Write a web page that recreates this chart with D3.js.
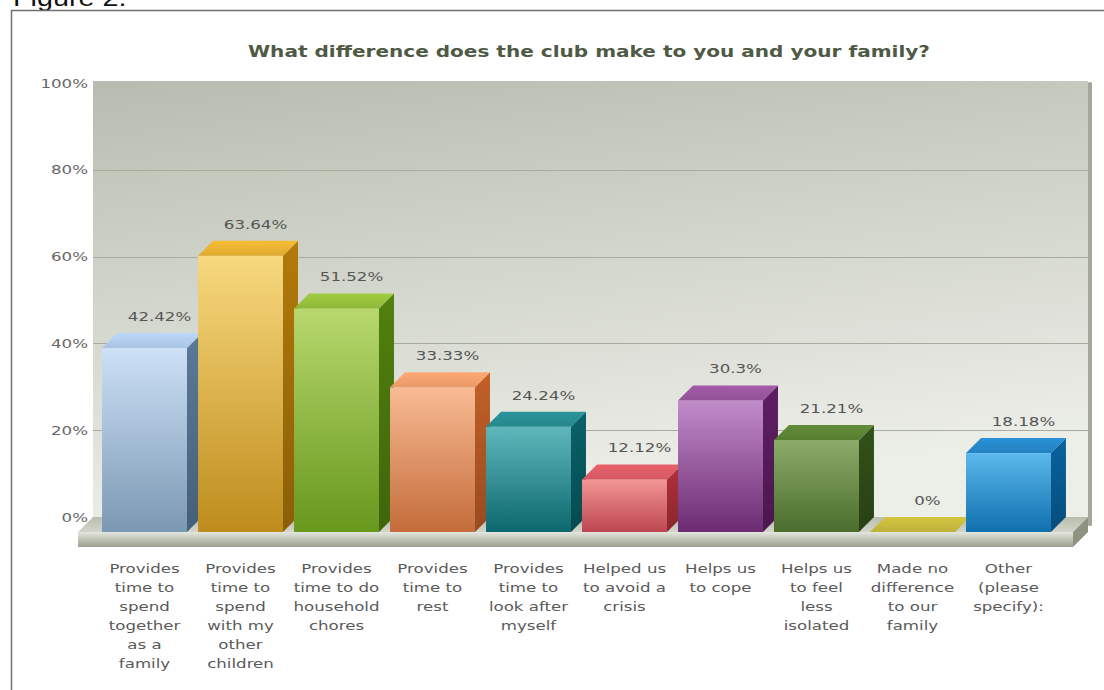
<!DOCTYPE html>
<html>
<head>
<meta charset="utf-8">
<script src="https://cdn.jsdelivr.net/npm/d3@7"></script>
<style>
  html, body { margin: 0; padding: 0; background: #ffffff; }
  svg { display: block; }
  text { font-family: "DejaVu Sans", Verdana, sans-serif; }
</style>
</head>
<body>
<svg id="chart" width="1104" height="690"></svg>
<script>
// ---- data ----
const categories = [
  "Provides\ntime to\nspend\ntogether\nas a\nfamily",
  "Provides\ntime to\nspend\nwith my\nother\nchildren",
  "Provides\ntime to do\nhousehold\nchores",
  "Provides\ntime to\nrest",
  "Provides\ntime to\nlook after\nmyself",
  "Helped us\nto avoid a\ncrisis",
  "Helps us\nto cope",
  "Helps us\nto feel\nless\nisolated",
  "Made no\ndifference\nto our\nfamily",
  "Other\n(please\nspecify):"
];
const values = [42.42, 63.64, 51.52, 33.33, 24.24, 12.12, 30.3, 21.21, 0, 18.18];
const valueLabels = ["42.42%", "63.64%", "51.52%", "33.33%", "24.24%", "12.12%", "30.3%", "21.21%", "0%", "18.18%"];
const yTicks = [0, 20, 40, 60, 80, 100];
const yTickLabels = ["0%", "20%", "40%", "60%", "80%", "100%"];
const title = "What difference does the club make to you and your family?";
const figureLabel = "Figure 2:";

// face colours per bar: [front top, front bottom, side, top-face]
const palette = [
  ["#cde1f7", "#7b98b3", "#4e6a85", "#a9c3e2"],
  ["#f8d97e", "#be8c1c", "#9a6a08", "#deaa30"],
  ["#b8d86e", "#67981c", "#46700c", "#8fb83a"],
  ["#f9bb94", "#c46c3a", "#a85322", "#e89868"],
  ["#5fb7bb", "#0c686e", "#07545a", "#26878c"],
  ["#f29595", "#bd4650", "#9a2a34", "#d25860"],
  ["#c28ccb", "#6c2b71", "#521a57", "#935298"],
  ["#8cac6a", "#4a6c2c", "#2c4716", "#577e31"],
  ["#d4ca4c", "#aea42c", "#8e8620", "#bdb23a"],
  ["#5cb8ec", "#0f70ae", "#07568a", "#2482c0"]
];

// ---- layout ----
const svg = d3.select("#chart");
const DX = 15, DY = 15;          // 3D depth offset (back plane is up-right)
const SX = 1.28;                 // horizontal text stretch

const y = d3.scaleLinear().domain([0, 100]).range([517, 83]);      // back plane
const x = d3.scaleBand().domain(d3.range(categories.length))
  .range([91, 1062]).padding(0.115);                                // front plane

const defs = svg.append("defs");

// wall gradient
const wg = defs.append("linearGradient").attr("id", "wall")
  .attr("x1", 0).attr("y1", 0).attr("x2", 0.25).attr("y2", 1);
wg.append("stop").attr("offset", 0).attr("stop-color", "#b8bcb0");
wg.append("stop").attr("offset", 0.5).attr("stop-color", "#d3d6cc");
wg.append("stop").attr("offset", 1).attr("stop-color", "#eceee8");

const fg = defs.append("linearGradient").attr("id", "floorFront")
  .attr("x1", 0).attr("y1", 0).attr("x2", 0).attr("y2", 1);
fg.append("stop").attr("offset", 0).attr("stop-color", "#e4e7de");
fg.append("stop").attr("offset", 1).attr("stop-color", "#9a9f8d");

const ftg = defs.append("linearGradient").attr("id", "floorTop")
  .attr("x1", 0).attr("y1", 0).attr("x2", 0).attr("y2", 1);
ftg.append("stop").attr("offset", 0).attr("stop-color", "#b9bdae");
ftg.append("stop").attr("offset", 1).attr("stop-color", "#d2d5c8");

palette.forEach((c, i) => {
  const g1 = defs.append("linearGradient").attr("id", "front" + i)
    .attr("x1", 0).attr("y1", 0).attr("x2", 0).attr("y2", 1);
  g1.append("stop").attr("offset", 0).attr("stop-color", c[0]);
  g1.append("stop").attr("offset", 1).attr("stop-color", c[1]);
  const g2 = defs.append("linearGradient").attr("id", "side" + i)
    .attr("x1", 0).attr("y1", 0).attr("x2", 0).attr("y2", 1);
  g2.append("stop").attr("offset", 0).attr("stop-color", d3.color(c[2]).brighter(0.4));
  g2.append("stop").attr("offset", 1).attr("stop-color", d3.color(c[2]).darker(0.3));
  const g3 = defs.append("linearGradient").attr("id", "top" + i)
    .attr("x1", 0).attr("y1", 1).attr("x2", 0).attr("y2", 0);
  g3.append("stop").attr("offset", 0).attr("stop-color", c[3]);
  g3.append("stop").attr("offset", 1).attr("stop-color", d3.color(c[3]).brighter(0.3));
});

// figure caption, partly clipped by the top of the page
svg.append("text").attr("transform", "translate(13,6) scale(1.25,1)")
  .style("font-family", "'Liberation Sans', Arial, sans-serif")
  .attr("font-size", 23).attr("fill", "#111").text(figureLabel);

// frame
svg.append("path").attr("d", "M11.5,690 L11.5,10.5 L1104,10.5")
  .attr("fill", "none").attr("stroke", "#6f6f6f").attr("stroke-width", 1.5);

// back wall
const wallR = 1088;
svg.append("rect").attr("x", 93).attr("y", y(100) - 2)
  .attr("width", wallR - 93).attr("height", y(0) - y(100) + 2)
  .attr("fill", "url(#wall)");
svg.append("rect").attr("x", wallR).attr("y", y(100) - 1)
  .attr("width", 4).attr("height", y(0) - y(100) + 10)
  .attr("rx", 1.5).attr("fill", "#a4a89b");

// grid lines
svg.append("g").selectAll("line").data(yTicks.filter(t => t > 0 && t < 100)).join("line")
  .attr("x1", 93).attr("x2", wallR)
  .attr("y1", d => Math.round(y(d)) + 0.5).attr("y2", d => Math.round(y(d)) + 0.5)
  .attr("stroke", "#a7ac9c").attr("stroke-width", 1);

// y-axis labels
svg.append("g").selectAll("text").data(yTicks).join("text")
  .attr("transform", d => `translate(88,${y(d) + 4.5}) scale(${SX},1)`)
  .attr("text-anchor", "end").attr("font-size", 13).attr("fill", "#666")
  .text((d, i) => yTickLabels[i]);

// floor slab
const fL = 78, fR = 1073, fTop = y(0) + DY, fBot = fTop + 15;
svg.append("polygon")
  .attr("points", [[fL, fTop], [fL + DX, fTop - DY], [fR + DX, fTop - DY], [fR, fTop]].join(" "))
  .attr("fill", "url(#floorTop)");
svg.append("rect").attr("x", fL).attr("y", fTop).attr("width", fR - fL).attr("height", fBot - fTop)
  .attr("fill", "url(#floorFront)");
svg.append("polygon")
  .attr("points", [[fR, fTop], [fR + DX, fTop - DY], [fR + DX, fBot - DY], [fR, fBot]].join(" "))
  .attr("fill", "#8e9381");

// bars
const bars = svg.append("g").selectAll("g").data(values).join("g");
bars.each(function (v, i) {
  const g = d3.select(this);
  const bx = x(i), bw = x.bandwidth();
  const fy = y(v) + DY, fy0 = y(0) + DY;
  if (fy0 - fy > 0.5) {
    g.append("rect").attr("x", bx).attr("y", fy).attr("width", bw).attr("height", fy0 - fy)
      .attr("fill", `url(#front${i})`);
    g.append("polygon")
      .attr("points", [[bx + bw, fy], [bx + bw + DX, fy - DY], [bx + bw + DX, fy0 - DY], [bx + bw, fy0]].join(" "))
      .attr("fill", `url(#side${i})`);
  }
  g.append("polygon")
    .attr("points", [[bx, fy], [bx + DX, fy - DY], [bx + bw + DX, fy - DY], [bx + bw, fy]].join(" "))
    .attr("fill", `url(#top${i})`);
  // value label centred over the back face
  g.append("text")
    .attr("transform", `translate(${bx + bw / 2 + DX},${y(v) - 12}) scale(${SX},1)`)
    .attr("text-anchor", "middle").attr("font-size", 13).attr("fill", "#555")
    .text(valueLabels[i]);
});

// category labels
svg.append("g").selectAll("text").data(categories).join("text")
  .attr("transform", (d, i) => `translate(${x(i) + x.bandwidth() / 2},573) scale(${SX},1)`)
  .attr("text-anchor", "middle").attr("font-size", 13).attr("fill", "#5a5a5a")
  .each(function (d) {
    d3.select(this).selectAll("tspan").data(d.split("\n")).join("tspan")
      .attr("x", 0).attr("dy", (t, k) => k === 0 ? 0 : 19).text(t => t);
  });

// title
svg.append("text").attr("x", 589).attr("y", 57)
  .attr("text-anchor", "middle").attr("font-size", 16).attr("font-weight", "bold")
  .attr("fill", "#4f5a45")
  .attr("textLength", 682).attr("lengthAdjust", "spacingAndGlyphs")
  .text(title);
</script>
</body>
</html>
